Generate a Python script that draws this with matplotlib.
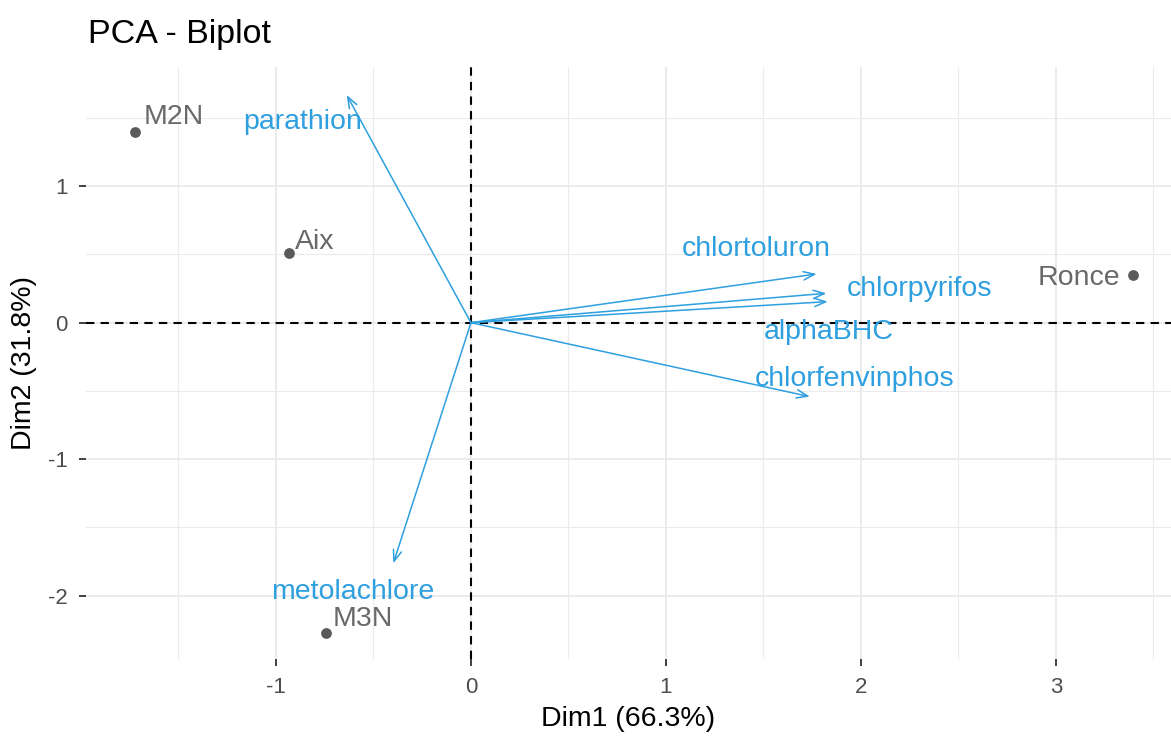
import matplotlib
matplotlib.use("Agg")
import matplotlib.pyplot as plt
from matplotlib.ticker import MultipleLocator

plt.rcParams['font.family'] = ['Liberation Sans', 'DejaVu Sans']

# Individuals (sites)
ind_names = ["M2N", "Aix", "M3N", "Ronce"]
ind_x = [-1.722, -0.935, -0.745, 3.393]
ind_y = [1.395, 0.508, -2.276, 0.352]

# Variables (pesticides) arrow tips
var_names = ["parathion", "metolachlore", "chlortoluron", "chlorpyrifos",
             "alphaBHC", "chlorfenvinphos"]
var_x = [-0.637, -0.398, 1.773, 1.823, 1.830, 1.738]
var_y = [1.668, -1.763, 0.357, 0.215, 0.154, -0.542]

x_ticks = [-1, 0, 1, 2, 3]
y_ticks = [-2, -1, 0, 1]

# label layout (pixel offsets from the mark, alignment)
ind_lab = {"M2N": (8, 2, "left"), "Aix": (6, -2, "left"),
           "M3N": (7, 1, "left"), "Ronce": (-12, -16, "right")}
var_lab = {"parathion": (-44, -27), "metolachlore": (-41, -29),
           "chlortoluron": (-60, 25), "chlorpyrifos": (93, 4),
           "alphaBHC": (1, -30), "chlorfenvinphos": (45, 18)}

IND_COL = "#696969"
VAR_COL = "#2E9FDF"

fig = plt.figure(figsize=(11.71, 7.47), dpi=100)
ax = fig.add_axes([86/1171, 1-659/747, 1-86/1171, (659-67)/747])
ax.set_xlim(-1.974, 3.59)
ax.set_ylim(-2.464, 1.873)

for s in ax.spines.values():
    s.set_visible(False)
ax.set_xticks(x_ticks)
ax.set_yticks(y_ticks)
ax.set_xticklabels([str(t) for t in x_ticks])
ax.set_yticklabels([str(t) for t in y_ticks])
ax.xaxis.set_minor_locator(MultipleLocator(0.5))
ax.yaxis.set_minor_locator(MultipleLocator(0.5))
ax.grid(which='major', color='#EBEBEB', linewidth=1.4, zorder=0)
ax.grid(which='minor', color='#EBEBEB', linewidth=0.8, zorder=0)
ax.tick_params(which='minor', length=0)
ax.tick_params(which='major', length=5, width=1.3, color='#333333',
               labelsize=16, labelcolor='#4D4D4D', pad=8)
ax.set_axisbelow(True)

ax.axhline(0, color='black', linestyle=(0, (4, 3)), linewidth=1.5, zorder=1)
ax.axvline(0, color='black', linestyle=(0, (4, 3)), linewidth=1.5, zorder=1)

# individuals
ax.scatter(ind_x, ind_y, s=60, color='#5A5A5A', zorder=3, linewidths=0)
for n, x, y in zip(ind_names, ind_x, ind_y):
    dx, dy, ha = ind_lab[n]
    ax.annotate(n, (x, y), xytext=(dx, dy), textcoords='offset pixels',
                ha=ha, va='bottom', fontsize=20.5, color=IND_COL, zorder=4)

# variables
for n, x, y in zip(var_names, var_x, var_y):
    ax.annotate("", xy=(x, y), xytext=(0, 0),
                arrowprops=dict(arrowstyle='->,head_length=0.8,head_width=0.3',
                                color=VAR_COL, lw=1.1, shrinkA=0, shrinkB=0),
                zorder=2)
    dx, dy = var_lab[n]
    ax.annotate(n, (x, y), xytext=(dx, dy), textcoords='offset pixels',
                ha='center', va='center', fontsize=20.5, color=VAR_COL, zorder=4)

ax.set_xlabel("Dim1 (66.3%)", fontsize=20.5, color='black', labelpad=6)
ax.set_ylabel("Dim2 (31.8%)", fontsize=20.5, color='black', labelpad=8)
fig.text(88/1171, 1-35/747, "PCA - Biplot", fontsize=24.5, color='black',
         ha='left', va='center')

fig.savefig("out.png", dpi=100)
